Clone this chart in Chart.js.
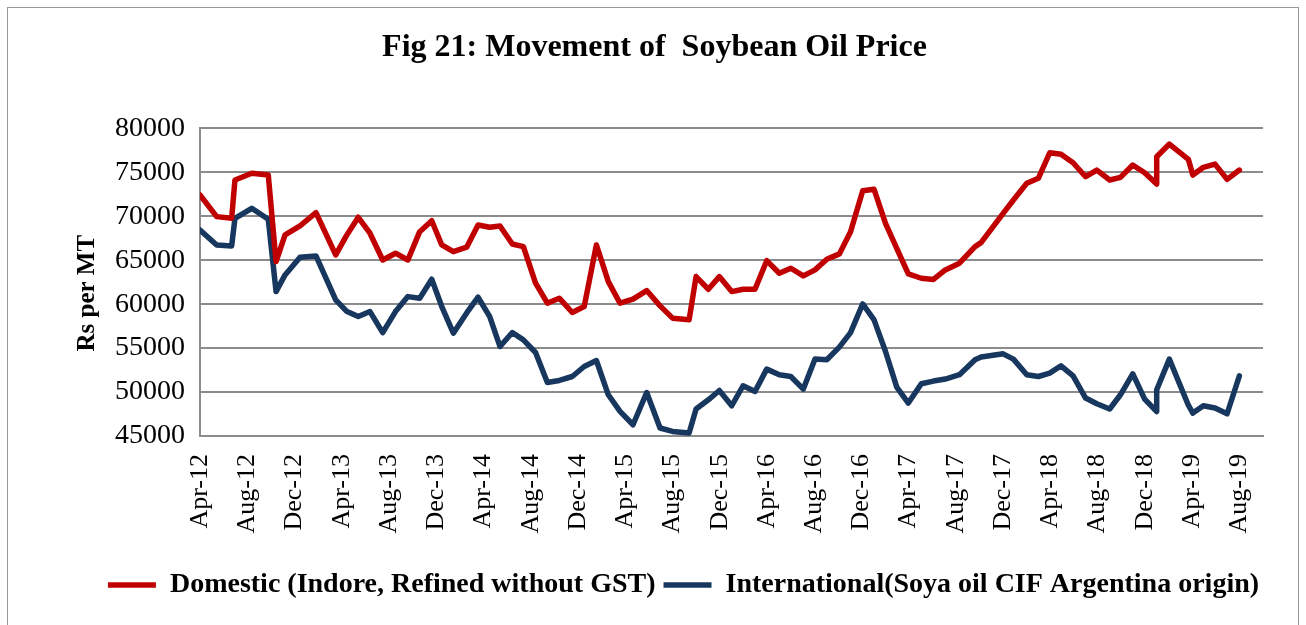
<!DOCTYPE html>
<html>
<head>
<meta charset="utf-8">
<title>Fig 21: Movement of Soybean Oil Price</title>
<script src="https://cdn.jsdelivr.net/npm/chart.js@4/dist/chart.umd.min.js"></script>
<style>
  html, body { margin: 0; padding: 0; background: #fff; overflow: hidden; }
  #wrap { position: relative; width: 1306px; height: 625px; }
</style>
</head>
<body>
<div id="wrap"><canvas id="chart"></canvas></div>
<script>
// position of each observation on the date axis, in months after Apr-12
const months = [
  0, 1.41, 2.68, 2.96, 4.38, 5.78, 6.44, 7.2, 8.47, 9.82,
  11.49, 12.4, 13.4, 14.39, 15.47, 16.55, 17.6, 18.6, 19.62, 20.47,
  21.45, 22.58, 23.54, 24.53, 25.4, 26.44, 27.38, 28.41, 29.41, 30.42,
  31.52, 32.53, 33.56, 34.57, 35.56, 36.66, 37.82, 38.95, 40.01, 41.41,
  42, 43.04, 43.97, 45.02, 45.98, 46.99, 47.98, 49.05, 50.02, 51.08,
  52.07, 53.07, 54.13, 55.08, 56.11, 57.07, 58.04, 58.99, 59.97, 61.07,
  62.1, 63.1, 64.3, 65.62, 66.13, 68, 68.87, 70, 70.98, 71.94,
  72.9, 73.92, 74.98, 75.93, 77.02, 77.93, 78.97, 79.98, 81, 81,
  82.07, 83.68, 84.06, 84.95, 85.94, 86.96, 88
];

// Domestic (Indore, Refined without GST), Rs per MT
const domestic = [
  72420, 69960, 69770, 74130, 74890, 74690, 64840, 67880, 68900, 70410,
  65600, 67800, 69890, 68070, 65030, 65800, 65030, 68250, 69500, 66740,
  65980, 66480, 69010, 68750, 68900, 66850, 66550, 62390, 60110, 60680,
  59050, 59730, 66740, 62570, 60110, 60570, 61550, 59810, 58410, 58220,
  63140, 61700, 63140, 61430, 61700, 61700, 64950, 63520, 64090, 63220,
  63900, 65110, 65720, 68250, 72910, 73070, 69200, 66360, 63440, 62950,
  62820, 63900, 64660, 66550, 67000, 70340, 71850, 73750, 74320, 77230,
  77050, 76090, 74500, 75260, 74130, 74430, 75830, 74960, 73670, 76770,
  78220, 76480, 74690, 75570, 75940, 74200, 75260
];

// International (Soya oil CIF Argentina origin), Rs per MT
const international = [
  68440, 66740, 66630, 69770, 70910, 69660, 61430, 63330, 65340, 65490,
  60490, 59200, 58600, 59160, 56770, 59160, 60860, 60680, 62840, 59730,
  56700, 59000, 60790, 58590, 55180, 56770, 55940, 54500, 51090, 51320,
  51770, 52910, 53590, 49690, 47800, 46280, 49950, 45910, 45520, 45340,
  48070, 49120, 50180, 48440, 50720, 50070, 52610, 51970, 51770, 50340,
  53750, 53670, 55110, 56770, 60030, 58220, 54610, 50570, 48750, 50940,
  51250, 51480, 51970, 53670, 53980, 54350, 53750, 51970, 51770, 52160,
  52990, 51850, 49320, 48670, 48070, 49690, 52080, 49200, 47790, 50260,
  53750, 48500, 47610, 48440, 48180, 47530, 51850
];

// axis labels every 4 months
const tickMonths = [0, 4, 8, 12, 16, 20, 24, 28, 32, 36, 40, 44, 48, 52, 56, 60, 64, 68, 72, 76, 80, 84, 88];
const tickLabels = [
  'Apr-12', 'Aug-12', 'Dec-12', 'Apr-13', 'Aug-13', 'Dec-13', 'Apr-14', 'Aug-14',
  'Dec-14', 'Apr-15', 'Aug-15', 'Dec-15', 'Apr-16', 'Aug-16', 'Dec-16', 'Apr-17',
  'Aug-17', 'Dec-17', 'Apr-18', 'Aug-18', 'Dec-18', 'Apr-19', 'Aug-19'
];

const serif = '"Liberation Serif", "Times New Roman", serif';
const gridGrey = '#8c8c8c';

// thin frame round the whole figure, y-axis title a bit below the middle,
// legend nudged right like in the original
const extras = {
  id: 'extras',
  afterLayout(chart) {
    chart.legend.left += 29;
    chart.legend.right += 29;
  },
  beforeDraw(chart) {
    const c = chart.ctx;
    c.save();
    c.strokeStyle = '#9a9a9a';
    c.lineWidth = 1;
    c.strokeRect(7.5, 7.5, 1291, 640);
    c.restore();
  },
  afterDraw(chart) {
    const y = chart.scales.y;
    const c = chart.ctx;
    c.save();
    c.translate(y.left + 42, (y.top + y.bottom) / 2 + 11);
    c.rotate(-Math.PI / 2);
    c.font = 'bold 25px ' + serif;
    c.fillStyle = '#000';
    c.textAlign = 'center';
    c.textBaseline = 'middle';
    c.fillText('Rs per MT', 0, 0);
    c.restore();
  }
};

const ctx = document.getElementById('chart').getContext('2d');
const chart = new Chart(ctx, {
  type: 'line',
  data: {
    datasets: [{
      label: 'Domestic (Indore, Refined without GST)',
      data: months.map((m, i) => ({ x: m, y: domestic[i] })),
      borderColor: '#C00000',
      backgroundColor: '#C00000',
      borderWidth: 5.5,
      borderCapStyle: 'round',
      borderJoinStyle: 'round',
      pointRadius: 0,
      fill: false
    }, {
      label: 'International(Soya oil CIF Argentina origin)',
      data: months.map((m, i) => ({ x: m, y: international[i] })),
      borderColor: '#17375E',
      backgroundColor: '#17375E',
      borderWidth: 5.5,
      borderCapStyle: 'round',
      borderJoinStyle: 'round',
      pointRadius: 0,
      fill: false
    }]
  },
  options: {
    responsive: true,
    maintainAspectRatio: false,
    animation: false,
    devicePixelRatio: 1,
    layout: { padding: { left: 46, right: 43, top: 0, bottom: 16 } },
    plugins: {
      title: {
        display: true,
        text: 'Fig 21: Movement of  Soybean Oil Price',
        color: '#000',
        font: { family: serif, size: 32, weight: 'bold', lineHeight: 1.2 },
        padding: { top: 29, bottom: 61 }
      },
      legend: {
        position: 'bottom',
        labels: {
          usePointStyle: true,
          pointStyle: 'line',
          pointStyleWidth: 48,
          color: '#000',
          padding: 8,
          font: { family: serif, size: 28, weight: 'bold' }
        }
      },
      tooltip: { enabled: false }
    },
    scales: {
      x: {
        type: 'linear',
        min: 0,
        max: 90,
        afterBuildTicks: scale => {
          scale.ticks = tickMonths.map(v => ({ value: v }));
        },
        afterFit: scale => { scale.height = 127; },
        ticks: {
          autoSkip: false,
          minRotation: 90,
          maxRotation: 90,
          padding: 10,
          color: '#000',
          font: { family: serif, size: 26 },
          callback: (value, index) => tickLabels[index]
        },
        grid: { display: false },
        border: { color: gridGrey, width: 2 }
      },
      y: {
        min: 45000,
        max: 80000,
        afterFit: scale => { scale.width = 154; },
        ticks: {
          stepSize: 5000,
          padding: 15,
          color: '#000',
          font: { family: serif, size: 28 },
          callback: value => String(value)
        },
        grid: { color: gridGrey, lineWidth: 2, drawTicks: false },
        border: { color: gridGrey, width: 2 }
      }
    }
  },
  plugins: [extras]
});
</script>
</body>
</html>
